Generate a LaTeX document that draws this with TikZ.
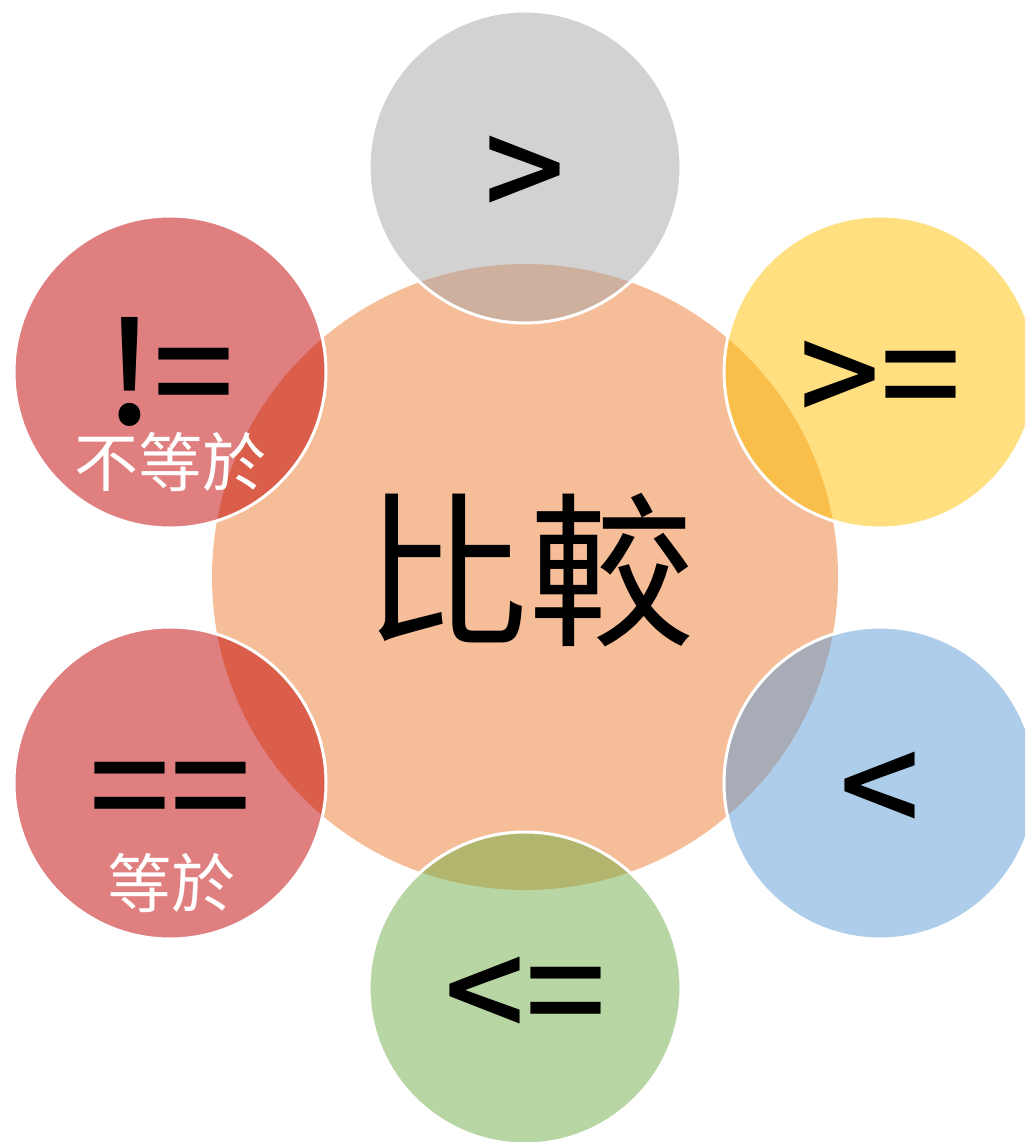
\documentclass[tikz,border=0pt]{standalone}
\usepackage{fontspec}
\setmainfont{Noto Sans CJK TC}[BoldFont={Noto Sans CJK TC Bold}]
\newfontfamily\symfont{Noto Sans CJK TC Medium}
\definecolor{cmporange}{HTML}{ED7D31}
\definecolor{cmpgrey}{HTML}{A5A5A5}
\definecolor{cmpgold}{HTML}{FFC000}
\definecolor{cmpblue}{HTML}{5B9BD5}
\definecolor{cmpgreen}{HTML}{70AD47}
\definecolor{cmpred}{HTML}{C00000}

\begin{document}
\begin{tikzpicture}[x=1pt,y=-1pt,
hub/.style={
circle,
fill=cmporange,
fill opacity=.5,
inner sep=0pt,
minimum size=626pt
},
sat/.style={
circle,
draw=white,
line width=3pt,
fill opacity=.5,
draw opacity=1,
inner sep=0pt,
minimum size=312pt
},
sym/.style={
anchor=base,
inner sep=0pt,
text depth=0pt,
yshift=-55pt,
font=\symfont\fontsize{142}{142}\selectfont
},
note/.style={
text=white,
inner sep=0pt,
font=\fontsize{64}{64}\selectfont
}
]
\useasboundingbox (0,0) rectangle (1025,1142);
\clip (0,0) rectangle (1025,1142);

\node[hub] (0) at (525,577) {};
\node[sat, fill=cmpgrey] (1) at (525,167) {};
\node[sat, fill=cmpgold] (2) at (880,372) {};
\node[sat, fill=cmpblue] (3) at (880,783) {};
\node[sat, fill=cmpgreen] (4) at (525,988) {};
\node[sat, fill=cmpred] (5) at (170,783) {};
\node[sat, fill=cmpred] (6) at (170,372) {};

\node[font=\fontsize{166}{166}\selectfont] (t0) at (528,570) {比較};
\node[sym] (t1) at (1) {>};
\node[sym] (t2) at (2) {>=};
\node[sym] (t3) at (3) {<};
\node[sym] (t4) at (4) {<=};
\node[sym] (t5) at (5) {==};
\node[sym, yshift=3pt] (t6) at (6) {!=};
\node[note] (n5) at (171,883) {等於};
\node[note] (n6) at (170,462) {不等於};

\end{tikzpicture}
\end{document}
